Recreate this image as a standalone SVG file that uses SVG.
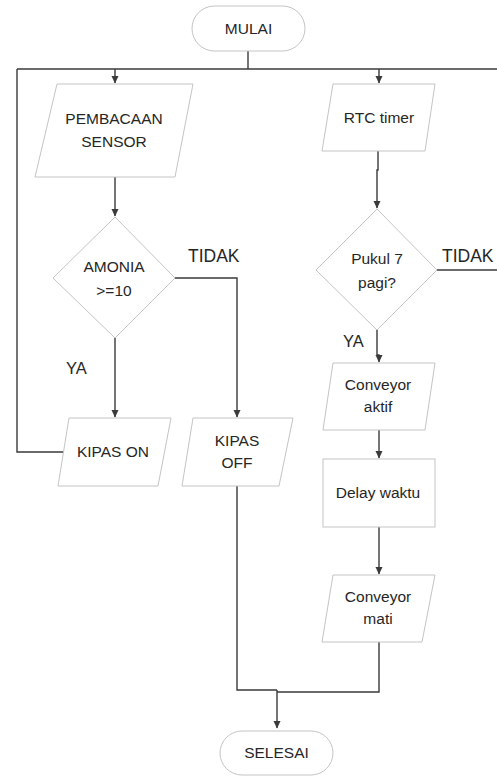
<svg xmlns="http://www.w3.org/2000/svg" width="497" height="776" viewBox="0 0 497 776">
<style>
.shape{fill:#fff;stroke:#c4c4c4;stroke-width:1}
.t{font-family:"Liberation Sans",Arial,sans-serif;font-size:15.5px;fill:#262626;text-anchor:middle}
.lbl{font-family:"Liberation Sans",Arial,sans-serif;fill:#262626}
.c{fill:none;stroke:#3a3a3a;stroke-width:1.4}
</style>
<defs>
<marker id="ah" markerUnits="userSpaceOnUse" markerWidth="8" markerHeight="8" viewBox="0 0 8 8" refX="7" refY="4" orient="auto">
<path d="M0,0.5 L7.5,4 L0,7.5 Z" fill="#3a3a3a"/>
</marker>
</defs>
<rect width="497" height="776" fill="#fff"/>
<g id="connectors">
<path class="c" d="M248,51 V69"/>
<path class="c" d="M17,69 H497"/>
<path class="c" d="M115,69 V83" marker-end="url(#ah)"/>
<path class="c" d="M379,69 V83" marker-end="url(#ah)"/>
<path class="c" d="M66,452 H17 V69"/>
<path class="c" d="M115,177 V216" marker-end="url(#ah)"/>
<path class="c" d="M378,151 V170 H377 V208" marker-end="url(#ah)"/>
<path class="c" d="M175,278 H237 V417" marker-end="url(#ah)"/>
<path class="c" d="M115,338 V417" marker-end="url(#ah)"/>
<path class="c" d="M437,270 H497"/>
<path class="c" d="M377,330 V355 H379 V362" marker-end="url(#ah)"/>
<path class="c" d="M379,430 V458" marker-end="url(#ah)"/>
<path class="c" d="M379,527 V574" marker-end="url(#ah)"/>
<path class="c" d="M237,486 V690 H277"/>
<path class="c" d="M379,642 V692 H277"/>
<path class="c" d="M277,690 V728" marker-end="url(#ah)"/>
</g>
<g id="mulai">
<rect class="shape" x="192" y="6" width="113" height="45" rx="22.5"/>
<text class="t" x="248.5" y="34">MULAI</text>
</g>
<g id="pembacaan">
<polygon class="shape" points="57,84 193,84 175,177 35,177"/>
<text class="t" x="114" y="124">PEMBACAAN</text>
<text class="t" x="114" y="147">SENSOR</text>
</g>
<g id="rtc">
<polygon class="shape" points="333,84 435,84 425,151 322,151"/>
<text class="t" x="379" y="123">RTC timer</text>
</g>
<g id="amonia">
<polygon class="shape" points="115,217 175,278 115,338 53,278"/>
<text class="t" x="114" y="272">AMONIA</text>
<text class="t" x="114" y="296">&gt;=10</text>
</g>
<g id="pukul">
<polygon class="shape" points="377,209 437,270 377,330 316,270"/>
<text class="t" x="377" y="264">Pukul 7</text>
<text class="t" x="377" y="288">pagi?</text>
</g>
<g id="kipas-on">
<polygon class="shape" points="69,418 171,418 158,486 58,486"/>
<text class="t" x="113" y="457">KIPAS ON</text>
</g>
<g id="kipas-off">
<polygon class="shape" points="193,418 293,418 279,486 182,486"/>
<text class="t" x="237" y="446">KIPAS</text>
<text class="t" x="237" y="468">OFF</text>
</g>
<g id="conveyor-aktif">
<polygon class="shape" points="333,363 435,363 425,430 323,430"/>
<text class="t" x="378" y="390">Conveyor</text>
<text class="t" x="378" y="412">aktif</text>
</g>
<g id="delay">
<rect class="shape" x="323" y="459" width="112" height="68"/>
<text class="t" x="378" y="498">Delay waktu</text>
</g>
<g id="conveyor-mati">
<polygon class="shape" points="333,575 435,575 422,642 322,642"/>
<text class="t" x="378" y="602">Conveyor</text>
<text class="t" x="378" y="624">mati</text>
</g>
<g id="selesai">
<rect class="shape" x="220" y="731" width="113" height="44" rx="22"/>
<text class="t" x="276.5" y="758">SELESAI</text>
</g>
<g id="labels">
<text class="lbl" x="188" y="262" font-size="17.5">TIDAK</text>
<text class="lbl" x="442" y="262" font-size="17.5">TIDAK</text>
<text class="lbl" x="66" y="374" font-size="16.5">YA</text>
<text class="lbl" x="343" y="347" font-size="16.5">YA</text>
</g>
</svg>
